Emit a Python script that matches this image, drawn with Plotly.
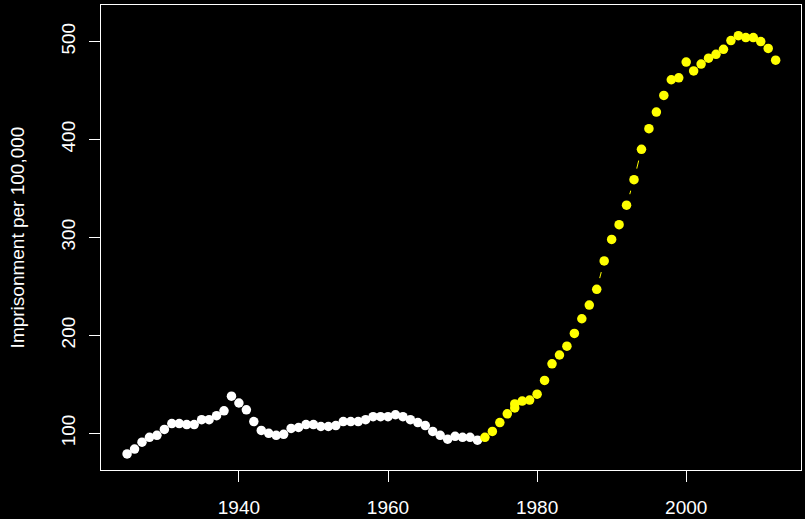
import plotly.graph_objects as go

# Early period (white points)
early_years = list(range(1925, 1973))
early_rate = [79, 84, 91, 96, 98, 104, 110, 110, 109, 109,
              114, 114, 118, 123, 138, 131, 124, 112, 103, 100,
              98, 99, 105, 106, 109, 109, 107, 107, 108, 112,
              112, 112, 114, 117, 117, 117, 119, 117, 114, 111,
              108, 102, 98, 94, 97, 96, 96, 93]

# Later period (yellow points; 1977 appears twice)
late_years = [1973, 1974, 1975, 1976, 1977, 1977, 1978, 1979, 1980, 1981,
              1982, 1983, 1984, 1985, 1986, 1987, 1988, 1989, 1990, 1991,
              1992, 1993, 1994, 1995, 1996, 1997, 1998, 1999, 2000, 2001,
              2002, 2003, 2004, 2005, 2006, 2007, 2008, 2009, 2010, 2011, 2012]
late_rate = [96, 102, 111, 120, 126, 130, 133, 134, 140, 154,
             171, 180, 189, 202, 217, 231, 247, 276, 298, 313,
             333, 359, 390, 411, 428, 445, 461, 463, 479, 470,
             477, 483, 487, 492, 501, 506, 504, 504, 500, 493, 481]

x_ticks = [1940, 1960, 1980, 2000]
y_ticks = [100, 200, 300, 400, 500]

FONT = "Liberation Sans, Arial, Helvetica, sans-serif"
YELLOW = "#ffff00"

fig = go.Figure()
# thin connecting line for the later period
fig.add_trace(go.Scatter(x=late_years, y=late_rate, mode="lines",
                         line=dict(color=YELLOW, width=1), hoverinfo="skip",
                         showlegend=False))
# gaps around points (R type="b" style)
fig.add_trace(go.Scatter(x=late_years, y=late_rate, mode="markers",
                         marker=dict(color="black", size=23, line=dict(width=0)),
                         hoverinfo="skip", showlegend=False))
fig.add_trace(go.Scatter(x=early_years, y=early_rate, mode="markers",
                         marker=dict(color="white", size=9.5, line=dict(width=0)),
                         showlegend=False))
fig.add_trace(go.Scatter(x=late_years, y=late_rate, mode="markers",
                         marker=dict(color=YELLOW, size=9.5, line=dict(width=0)),
                         showlegend=False))

axis_common = dict(showline=True, mirror=True, linecolor="white", linewidth=1,
                   ticks="outside", ticklen=11, tickcolor="white", tickwidth=1,
                   showgrid=False, zeroline=False,
                   tickfont=dict(family=FONT, size=19, color="white"))

fig.update_layout(
    width=805, height=519,
    paper_bgcolor="black", plot_bgcolor="black",
    margin=dict(l=101, r=4, t=5, b=49, autoexpand=False),
    xaxis=dict(range=[1921.5, 2015.4], tickvals=x_ticks,
               ticklabelstandoff=9, **axis_common),
    yaxis=dict(range=[62.6, 537.3], tickvals=y_ticks, tickangle=-90,
               ticklabelstandoff=6,
               title=dict(text="Imprisonment per 100,000", standoff=28,
                          font=dict(family=FONT, size=19, color="white")),
               **axis_common),
    font=dict(family=FONT, color="white"),
)

fig.write_html("out.html",
               config={"displayModeBar": False},
               post_script="document.body.style.margin='0';"
                           "document.body.style.background='black';")
